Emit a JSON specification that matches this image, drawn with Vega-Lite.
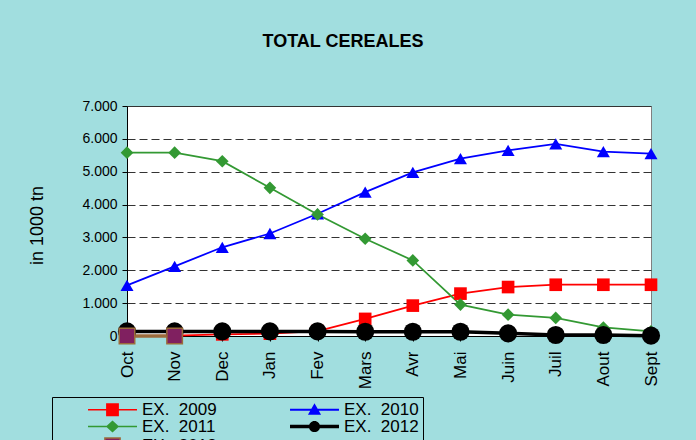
{
  "$schema": "https://vega.github.io/schema/vega-lite/v6.json",
  "width": 524,
  "height": 230,
  "autosize": {"type": "none"},
  "padding": {"left": 127, "top": 106, "right": 45, "bottom": 104},
  "background": "#A1DEDF",
  "title": {
    "text": "TOTAL CEREALES",
    "font": "Liberation Sans",
    "fontSize": 18,
    "fontWeight": "bold",
    "color": "#000000",
    "anchor": "middle",
    "frame": "group",
    "dx": -46,
    "baseline": "alphabetic",
    "offset": 34
  },
  "data": {
    "values": [
      {"m": "Oct", "s": "2009", "v": 0}, {"m": "Nov", "s": "2009", "v": 10}, {"m": "Dec", "s": "2009", "v": 50}, {"m": "Jan", "s": "2009", "v": 70},
      {"m": "Fev", "s": "2009", "v": 150}, {"m": "Mars", "s": "2009", "v": 520}, {"m": "Avr", "s": "2009", "v": 925}, {"m": "Mai", "s": "2009", "v": 1290},
      {"m": "Juin", "s": "2009", "v": 1490}, {"m": "Juil", "s": "2009", "v": 1560}, {"m": "Aout", "s": "2009", "v": 1560}, {"m": "Sept", "s": "2009", "v": 1560},
      {"m": "Oct", "s": "2010", "v": 1540}, {"m": "Nov", "s": "2010", "v": 2120}, {"m": "Dec", "s": "2010", "v": 2700}, {"m": "Jan", "s": "2010", "v": 3120},
      {"m": "Fev", "s": "2010", "v": 3720}, {"m": "Mars", "s": "2010", "v": 4380}, {"m": "Avr", "s": "2010", "v": 4980}, {"m": "Mai", "s": "2010", "v": 5400},
      {"m": "Juin", "s": "2010", "v": 5650}, {"m": "Juil", "s": "2010", "v": 5850}, {"m": "Aout", "s": "2010", "v": 5610}, {"m": "Sept", "s": "2010", "v": 5550},
      {"m": "Oct", "s": "2011", "v": 5580}, {"m": "Nov", "s": "2011", "v": 5580}, {"m": "Dec", "s": "2011", "v": 5320}, {"m": "Jan", "s": "2011", "v": 4510},
      {"m": "Fev", "s": "2011", "v": 3700}, {"m": "Mars", "s": "2011", "v": 2960}, {"m": "Avr", "s": "2011", "v": 2300}, {"m": "Mai", "s": "2011", "v": 955},
      {"m": "Juin", "s": "2011", "v": 650}, {"m": "Juil", "s": "2011", "v": 550}, {"m": "Aout", "s": "2011", "v": 260}, {"m": "Sept", "s": "2011", "v": 140},
      {"m": "Oct", "s": "2012", "v": 140}, {"m": "Nov", "s": "2012", "v": 140}, {"m": "Dec", "s": "2012", "v": 140}, {"m": "Jan", "s": "2012", "v": 140},
      {"m": "Fev", "s": "2012", "v": 140}, {"m": "Mars", "s": "2012", "v": 130}, {"m": "Avr", "s": "2012", "v": 130}, {"m": "Mai", "s": "2012", "v": 130},
      {"m": "Juin", "s": "2012", "v": 80}, {"m": "Juil", "s": "2012", "v": 30}, {"m": "Aout", "s": "2012", "v": 30}, {"m": "Sept", "s": "2012", "v": 10},
      {"m": "Oct", "s": "2013", "v": 0}, {"m": "Nov", "s": "2013", "v": 0}
    ]
  },
  "encoding": {
    "x": {
      "field": "m",
      "type": "nominal",
      "sort": ["Oct", "Nov", "Dec", "Jan", "Fev", "Mars", "Avr", "Mai", "Juin", "Juil", "Aout", "Sept"],
      "scale": {"type": "point", "padding": 0},
      "axis": {
        "title": null,
        "labelAngle": 270,
        "labelAlign": "right",
        "labelBaseline": "middle",
        "labelFont": "Liberation Sans",
        "labelFontSize": 17,
        "labelColor": "#000000",
        "labelPadding": 10,
        "tickSize": 5,
        "tickColor": "#000000",
        "domainColor": "#000000",
        "grid": false
      }
    },
    "y": {
      "field": "v",
      "type": "quantitative",
      "scale": {"domain": [0, 7000], "nice": false},
      "axis": {
        "title": "in 1000 tn",
        "titleFont": "Liberation Sans",
        "titleFontSize": 18,
        "titleFontWeight": "normal",
        "titleColor": "#000000",
        "titleAngle": 270,
        "titleBaseline": "alphabetic",
        "titleAlign": "center",
        "titleX": -85,
        "titleY": 119,
        "values": [0, 1000, 2000, 3000, 4000, 5000, 6000, 7000],
        "format": ",d",
        "labelFont": "Liberation Sans",
        "labelFontSize": 14,
        "labelColor": "#000000",
        "labelPadding": 5,
        "tickSize": 5,
        "tickColor": "#000000",
        "domainColor": "#000000",
        "grid": true,
        "gridColor": "#333333",
        "gridDash": {"condition": {"test": "datum.value == 7000 || datum.value == 0", "value": []}, "value": [8, 4]},
        "gridWidth": 1
      }
    }
  },
  "layer": [
    {
      "transform": [{"filter": "datum.s == '2009' || datum.s == '2010' || datum.s == '2011'"}],
      "mark": {"type": "line", "strokeWidth": 1.75},
      "encoding": {
        "color": {
          "field": "s",
          "type": "nominal",
          "scale": {"domain": ["2009", "2010", "2011", "2012", "2013"], "range": ["#FF0000", "#0000FF", "#339933", "#000000", "#9C6B3C"]},
          "legend": {
            "orient": "none",
            "legendX": -75,
            "legendY": 291,
            "columns": 2,
            "direction": "horizontal",
            "title": null,
            "symbolSize": 256,
            "symbolOffset": 48,
            "labelOffset": 21,
            "columnPadding": 41,
            "rowPadding": -1,
            "padding": 4,
            "strokeColor": "#000000",
            "fillColor": "#A1DEDF",
            "labelFont": "Liberation Sans",
            "labelFontSize": 17,
            "labelColor": "#000000",
            "labelLimit": 300,
            "labelExpr": "'EX.\u00a0\u00a0' + datum.label + (datum.label == '2010' || datum.label == '2012' ? '\u00a0\u00a0\u00a0\u00a0\u00a0\u00a0\u00a0' : '')",
            "encode": {
              "symbols": {
                "update": {
                  "shape": {"signal": "datum.value === '2009' ? 'M-3.06,-0.1H3.06V0.1H-3.06ZM-0.8,-0.8H0.8V0.8H-0.8Z' : datum.value === '2010' ? 'M-3.06,-0.13H3.06V0.13H-3.06ZM0,-0.8L0.82,0.62H-0.82Z' : datum.value === '2011' ? 'M-3.06,-0.1H3.06V0.1H-3.06ZM0,-0.75L0.82,0L0,0.75L-0.82,0Z' : datum.value === '2012' ? 'M-3.06,-0.22H3.06V0.22H-3.06ZM-0.7,0A0.7,0.7,0,1,1,0.7,0A0.7,0.7,0,1,1,-0.7,0Z' : 'M-3.06,-0.19H3.06V0.19H-3.06ZM-0.95,-0.95H0.95V0.95H-0.95Z'"},
                  "fill": {"signal": "datum.value === '2013' ? '#802060' : scale('color', datum.value)"},
                  "stroke": {"signal": "datum.value === '2013' ? '#9C6B3C' : 'transparent'"},
                  "strokeWidth": {"signal": "datum.value === '2013' ? 1.5 : 0"},
                  "opacity": {"value": 1}
                }
              }
            }
          }
        }
      }
    },
    {
      "transform": [{"filter": "datum.s == '2012' || datum.s == '2013'"}],
      "mark": {"type": "line", "strokeWidth": 3.5},
      "encoding": {
        "color": {"field": "s", "type": "nominal"}
      }
    },
    {
      "transform": [{"filter": "datum.s == '2009'"}],
      "mark": {"type": "point", "filled": true, "opacity": 1, "shape": "square", "size": 160, "color": "#FF0000"},
      "encoding": {}
    },
    {
      "transform": [{"filter": "datum.s == '2010'"}],
      "mark": {"type": "point", "filled": true, "opacity": 1, "shape": "triangle-up", "size": 170, "color": "#0000FF"},
      "encoding": {}
    },
    {
      "transform": [{"filter": "datum.s == '2011'"}],
      "mark": {"type": "point", "filled": true, "opacity": 1, "shape": "diamond", "size": 160, "color": "#339933"},
      "encoding": {}
    },
    {
      "transform": [{"filter": "datum.s == '2012'"}],
      "mark": {"type": "point", "filled": true, "opacity": 1, "shape": "circle", "size": 330, "color": "#000000"},
      "encoding": {}
    },
    {
      "transform": [{"filter": "datum.s == '2013'"}],
      "mark": {"type": "point", "filled": true, "opacity": 1, "shape": "square", "size": 240, "fill": "#802060", "stroke": "#9C6B3C", "strokeWidth": 1.5},
      "encoding": {}
    }
  ],
  "config": {
    "locale": {"number": {"decimal": ",", "thousands": ".", "grouping": [3], "currency": ["", " €"]}},
    "view": {"fill": "#FFFFFF", "stroke": "#808080", "strokeWidth": 1},
    "font": "Liberation Sans"
  }
}
